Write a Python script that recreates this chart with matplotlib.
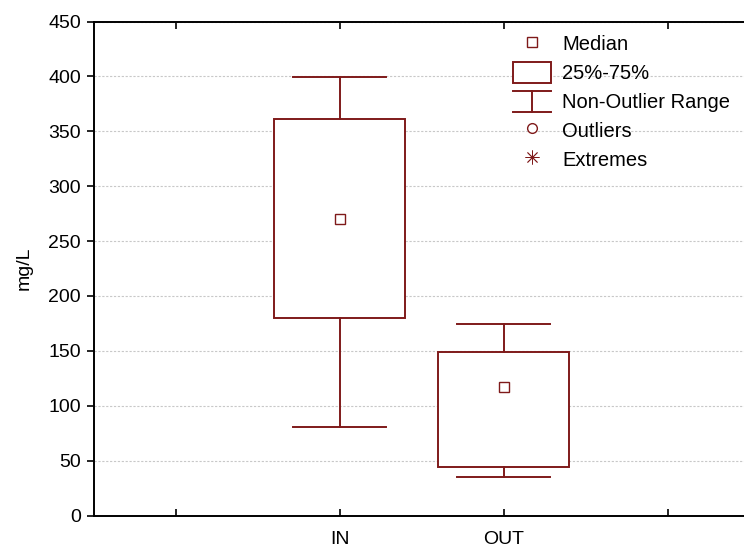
import matplotlib
matplotlib.use("Agg")
import matplotlib.pyplot as plt
from matplotlib.lines import Line2D
from matplotlib.patches import Rectangle
from matplotlib.legend_handler import HandlerBase

plt.rcParams['font.family'] = ['Liberation Sans', 'DejaVu Sans']

# Summary statistics per sample point (mg/L)
groups = ['IN', 'OUT']
medians = [270, 117]
q1 = [180, 44]
q3 = [361, 149]
whisker_low = [81, 35]
whisker_high = [399, 174]

tick_labels = ['', 'IN', 'OUT', '']
y_ticks = [0, 50, 100, 150, 200, 250, 300, 350, 400, 450]

RED = '#7f1a1a'
W, H, DPI = 744, 552, 100
FS = 14
LEG_FS = 14.5

fig = plt.figure(figsize=(W / DPI, H / DPI), dpi=DPI)
# axes run past the right edge of the canvas, so no right frame is seen
ax = fig.add_axes([93.5 / W, 36.5 / H, 656 / W, 494 / H])

positions = [1, 2]
stats = [dict(med=m, q1=a, q3=b, whislo=lo, whishi=hi, fliers=[], label=g)
         for g, m, a, b, lo, hi in zip(groups, medians, q1, q3, whisker_low, whisker_high)]

lw = 1.4
ax.bxp(stats, positions=positions, widths=0.8, capwidths=0.567,
       patch_artist=True, showfliers=False,
       boxprops=dict(facecolor='white', edgecolor=RED, linewidth=lw),
       whiskerprops=dict(color=RED, linewidth=lw),
       capprops=dict(color=RED, linewidth=lw),
       medianprops=dict(linestyle='none'), zorder=3)
ax.plot(positions, medians, linestyle='none', marker='s', markersize=6.5,
        markerfacecolor='white', markeredgecolor=RED, markeredgewidth=1.0, zorder=4)

ax.set_xlim(-0.5, 3.5)
ax.set_ylim(0, 450)
ax.set_xticks(range(len(tick_labels)))
ax.set_xticklabels(tick_labels)
ax.set_yticks(y_ticks)

ax.yaxis.grid(True, color='#c8c8c8', linestyle=(0, (2, 1.5)), linewidth=0.8)
ax.set_axisbelow(True)

for s in ['left', 'bottom', 'top']:
    ax.spines[s].set_linewidth(1.4)
    ax.spines[s].set_color('black')
ax.spines['right'].set_visible(False)

ax.tick_params(axis='y', direction='out', length=5, width=1.2, labelsize=FS, pad=4)
ax.tick_params(axis='x', direction='in', length=5, width=1.2, labelsize=FS, pad=11,
               top=True)
ax.set_ylabel('mg/L', fontsize=FS, labelpad=11)


class HandlerRange(HandlerBase):
    """Draws the I-shaped whisker symbol."""
    def create_artists(self, legend, orig_handle, xdescent, ydescent,
                       width, height, fontsize, trans):
        x0, y0 = -xdescent, -ydescent
        xm = x0 + width / 2
        arts = [Line2D([x0, x0 + width], [y0 + height, y0 + height]),
                Line2D([x0, x0 + width], [y0, y0]),
                Line2D([xm, xm], [y0, y0 + height])]
        for a in arts:
            a.set_color(RED)
            a.set_linewidth(lw)
            a.set_transform(trans)
        return arts


range_handle = Line2D([], [], color=RED)
handles = [
    Line2D([], [], linestyle='none', marker='s', markersize=6.5,
           markerfacecolor='white', markeredgecolor=RED, markeredgewidth=1.0),
    Rectangle((0, 0), 1, 1, facecolor='white', edgecolor=RED, linewidth=lw),
    range_handle,
    Line2D([], [], linestyle='none', marker='o', markersize=7,
           markerfacecolor='white', markeredgecolor=RED, markeredgewidth=1.0),
    Line2D([], [], linestyle='none', marker=(8, 2, 0), markersize=10,
           markeredgecolor=RED, markeredgewidth=0.6),
]
labels = ['Median', '25%-75%', 'Non-Outlier Range', 'Outliers', 'Extremes']
fs_px = LEG_FS * DPI / 72
ax.legend(handles, labels, handler_map={range_handle: HandlerRange()},
          loc='upper left', bbox_to_anchor=(513 / W, 1 - 33 / H),
          bbox_transform=fig.transFigure, frameon=False, fontsize=LEG_FS,
          borderpad=0, borderaxespad=0, handlelength=38 / fs_px,
          handleheight=25 / fs_px, handletextpad=11 / fs_px,
          labelspacing=7.5 / fs_px)

fig.savefig('out.png', dpi=DPI)
